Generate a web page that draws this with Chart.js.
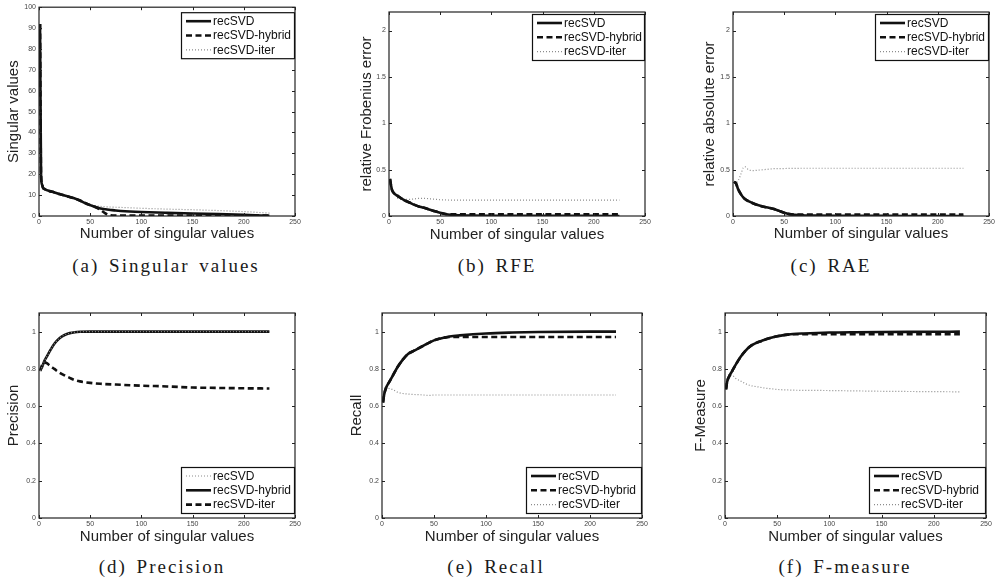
<!DOCTYPE html>
<html><head><meta charset="utf-8">
<script src="https://cdn.jsdelivr.net/npm/chart.js@4.4.0/dist/chart.umd.min.js"></script>
<style>
html,body{margin:0;padding:0;background:#fff;}
#wrap{position:relative;width:1001px;height:585px;background:#fff;overflow:hidden;}
canvas{position:absolute;}
.cap{position:absolute;width:320px;text-align:center;font-family:"Liberation Serif","Times New Roman",serif;font-size:19px;letter-spacing:2px;word-spacing:3px;color:#1a1a1a;line-height:22px;white-space:nowrap;}
</style></head><body><div id="wrap"></div>
<script>
// ---------- data ----------
const xTicks = [0, 50, 100, 150, 200, 250];
const yTicksA = [0, 10, 20, 30, 40, 50, 60, 70, 80, 90, 100];
const yTicksErr = [0, 0.5, 1, 1.5, 2];
const yTicksRate = [0, 0.2, 0.4, 0.6, 0.8, 1];

// (a) Singular values
const xA = [1,2,3,4,6,10,15,20,25,30,35,40,45,50,55,60,65,70,75,80,100,125,150,175,200,225];
const aRecSVD = [92,20,15,13.5,12.8,12,11.3,10.5,9.8,9.1,8.4,7.4,6.2,5.2,4.3,3.6,3.2,2.9,2.6,2.4,1.9,1.5,1.2,0.9,0.6,0.1];
const aHybrid = [92,20,15,13.5,12.8,12,11.3,10.5,9.8,9.1,8.4,7.4,6.2,5.2,4.3,3.0,1.2,0.3,0.2,0.2,0.2,0.2,0.2,0.2,0.2,0.2];
const aIter   = [92,20,15,13.5,12.8,12,11.3,10.5,9.8,9.1,8.4,7.4,6.3,5.4,4.9,4.6,4.4,4.3,4.2,4.1,3.7,3.3,3.0,2.6,2.1,1.4];

// (b) RFE
const xB = [1,2,3,5,8,10,15,20,25,30,35,40,45,50,55,60,70,80,100,150,200,225];
const bRecSVD = [0.40,0.33,0.28,0.245,0.22,0.205,0.17,0.145,0.12,0.10,0.085,0.068,0.05,0.035,0.022,0.014,0.008,0.005,0.003,0.002,0.001,0.0];
const bHybrid = [0.40,0.33,0.28,0.245,0.22,0.205,0.17,0.145,0.12,0.10,0.085,0.068,0.05,0.035,0.022,0.017,0.017,0.017,0.017,0.017,0.017,0.017];
const bIter   = [0.40,0.33,0.28,0.245,0.20,0.18,0.18,0.18,0.185,0.19,0.19,0.185,0.18,0.175,0.173,0.172,0.172,0.172,0.172,0.172,0.172,0.172];

// (c) RAE
const xC = [1,3,5,8,10,12,15,20,25,30,35,40,45,50,55,60,70,80,100,150,200,225];
const cRecSVD = [0.37,0.35,0.29,0.23,0.20,0.18,0.16,0.135,0.115,0.10,0.09,0.075,0.055,0.035,0.02,0.012,0.006,0.004,0.002,0.001,0.0,0.0];
const cHybrid = [0.37,0.35,0.29,0.23,0.20,0.18,0.16,0.135,0.115,0.10,0.09,0.075,0.055,0.035,0.02,0.016,0.016,0.016,0.016,0.016,0.016,0.016];
const cIter   = [0.37,0.36,0.38,0.46,0.52,0.53,0.50,0.49,0.495,0.50,0.505,0.51,0.51,0.512,0.513,0.514,0.515,0.515,0.515,0.515,0.515,0.515];

// (d) Precision
const xD = [1,3,5,8,10,15,20,25,30,35,40,50,60,75,100,125,150,175,200,225];
const dRecSVD = [0.79,0.81,0.84,0.87,0.89,0.935,0.965,0.982,0.992,0.997,0.999,1,1,1,1,1,1,1,1,1];
const dHybrid = [0.79,0.81,0.84,0.87,0.89,0.935,0.965,0.982,0.992,0.997,0.999,1,1,1,1,1,1,1,1,1];
const dIter   = [0.79,0.82,0.835,0.83,0.82,0.80,0.78,0.765,0.752,0.74,0.733,0.725,0.72,0.716,0.71,0.706,0.70,0.698,0.696,0.695];

// (e) Recall
const xE = [1,2,4,7,10,15,20,25,30,35,40,45,50,55,60,65,75,100,125,150,200,225];
const eRecSVD = [0.62,0.66,0.70,0.73,0.76,0.81,0.85,0.88,0.895,0.91,0.925,0.94,0.953,0.962,0.968,0.974,0.98,0.99,0.995,0.998,1.0,1.0];
const eHybrid = [0.62,0.66,0.70,0.73,0.76,0.81,0.85,0.88,0.895,0.91,0.925,0.94,0.953,0.962,0.968,0.971,0.971,0.971,0.971,0.971,0.971,0.971];
const eIter   = [0.62,0.67,0.70,0.695,0.69,0.675,0.668,0.665,0.663,0.662,0.66,0.658,0.66,0.66,0.66,0.66,0.66,0.66,0.66,0.66,0.66,0.66];

// (f) F-measure
const xF = [1,2,4,7,10,15,20,25,30,35,40,45,50,55,60,65,75,100,125,150,200,225];
const fRecSVD = [0.69,0.73,0.76,0.79,0.82,0.865,0.90,0.925,0.94,0.95,0.96,0.968,0.975,0.98,0.984,0.987,0.99,0.995,0.997,0.998,0.999,1.0];
const fHybrid = [0.69,0.73,0.76,0.79,0.82,0.865,0.90,0.925,0.94,0.95,0.96,0.968,0.975,0.98,0.984,0.986,0.986,0.986,0.986,0.986,0.986,0.986];
const fIter   = [0.69,0.73,0.76,0.765,0.75,0.735,0.72,0.71,0.705,0.70,0.696,0.693,0.69,0.688,0.687,0.686,0.685,0.684,0.682,0.68,0.678,0.677];

const labels = ['recSVD', 'recSVD-hybrid', 'recSVD-iter'];
const xTitle = 'Number of singular values';

// ---------- styling ----------
const FONT = '"Liberation Sans", Arial, Helvetica, sans-serif';
const STYLE = {
  solid:  {borderColor:'#111', borderWidth:2.6, borderDash:[]},
  dashed: {borderColor:'#111', borderWidth:2.6, borderDash:[6,3.5]},
  dotted: {borderColor:'#8c8c8c', borderWidth:1.2, borderDash:[1,2]}
};

const framePlugin = {
  id:'frame',
  afterDatasetsDraw(chart){
    const {ctx, chartArea:a, scales} = chart;
    ctx.save();
    ctx.strokeStyle = '#222'; ctx.lineWidth = 1.2; ctx.setLineDash([]);
    ctx.strokeRect(a.left, a.top, a.right - a.left, a.bottom - a.top);
    ctx.lineWidth = 1;
    ctx.beginPath();
    scales.x.ticks.forEach(t => {
      const px = Math.round(scales.x.getPixelForValue(t.value)) + 0.5;
      ctx.moveTo(px, a.bottom); ctx.lineTo(px, a.bottom - 3);
      ctx.moveTo(px, a.top); ctx.lineTo(px, a.top + 3);
    });
    scales.y.ticks.forEach(t => {
      const py = Math.round(scales.y.getPixelForValue(t.value)) + 0.5;
      ctx.moveTo(a.left, py); ctx.lineTo(a.left + 3, py);
      ctx.moveTo(a.right, py); ctx.lineTo(a.right - 3, py);
    });
    ctx.stroke();
    ctx.restore();
  }
};

const legendPlugin = {
  id:'boxLegend',
  afterDraw(chart, args, opts){
    const {ctx, chartArea:a} = chart;
    const w = opts.w || 114, h = 47;
    const x = a.right - w;
    const y = opts.pos === 'top' ? a.top + opts.off : a.bottom - opts.off - h;
    ctx.save();
    ctx.fillStyle = '#fff'; ctx.fillRect(x, y, w, h);
    ctx.strokeStyle = '#111'; ctx.lineWidth = 1.2; ctx.setLineDash([]);
    ctx.strokeRect(x + 0.5, y + 0.5, w - 1, h - 1);
    chart.data.datasets.forEach((ds, i) => {
      const cy = y + 9 + i * 14.3;
      ctx.strokeStyle = ds.borderColor; ctx.lineWidth = ds.borderWidth;
      ctx.setLineDash(ds.borderDash || []);
      ctx.beginPath(); ctx.moveTo(x + 5, cy); ctx.lineTo(x + 30, cy); ctx.stroke();
      ctx.setLineDash([]);
      ctx.fillStyle = '#111'; ctx.font = '12px ' + FONT; ctx.textBaseline = 'middle';
      ctx.fillText(ds.label, x + 32, cy + 0.5);
    });
    ctx.restore();
  }
};

const wrap = document.getElementById('wrap');

function makeChart(p){
  const c = document.createElement('canvas');
  c.width = p.cw; c.height = p.ch;
  c.style.left = p.cl + 'px'; c.style.top = p.ct + 'px';
  c.style.width = p.cw + 'px'; c.style.height = p.ch + 'px';
  wrap.appendChild(c);
  const padLeft = p.titleX - 9 - p.cl;
  const tickFont = {size:7, family:FONT};
  new Chart(c, {
    type:'line',
    data:{datasets: p.series.map(s => Object.assign({
      label: s.label,
      data: p.x.map((xv, i) => ({x:xv, y:s.y[i]})),
      pointRadius:0, fill:false, cubicInterpolationMode:'monotone'
    }, STYLE[s.style]))},
    options:{
      responsive:false, animation:false, devicePixelRatio:1,
      layout:{padding:{left:padLeft, top:p.pt - p.ct, right:p.cl + p.cw - p.pr, bottom:0}},
      plugins:{legend:{display:false}, tooltip:{enabled:false},
        boxLegend:{pos:p.legPos, off:p.legOff, w:p.legW}},
      scales:{
        x:{type:'linear', min:0, max:250,
          afterBuildTicks: s => { s.ticks = xTicks.map(v => ({value:v})); },
          afterFit: s => { s.height = p.ct + p.ch - p.pb; },
          grid:{display:false, drawTicks:false}, border:{display:false},
          ticks:{font:tickFont, color:'#444', padding:2, maxRotation:0, autoSkip:false, callback:v => String(v)},
          title:{display:true, text:xTitle, font:{size:15, family:FONT}, color:'#222', padding:0}
        },
        y:{type:'linear', min:p.ymin, max:p.ymax,
          afterBuildTicks: s => { s.ticks = p.yTicks.map(v => ({value:v})); },
          afterFit: s => { s.width = p.pl - p.cl - padLeft; },
          grid:{display:false, drawTicks:false}, border:{display:false},
          ticks:{font:tickFont, color:'#444', padding:3, autoSkip:false, callback:v => String(v)},
          title:{display:true, text:p.yTitle, font:{size:15, family:FONT}, color:'#222', padding:0}
        }
      }
    },
    plugins:[framePlugin, legendPlugin]
  });
}

function caption(text, cx, cy){
  const d = document.createElement('div');
  d.className = 'cap'; d.textContent = text;
  d.style.left = (cx - 160) + 'px'; d.style.top = (cy - 11) + 'px';
  wrap.appendChild(d);
}

const panels = [
  {cl:0, ct:0, cw:330, ch:243, pl:39, pr:295, pt:6, pb:216, titleX:14,
   yTitle:'Singular values', ymin:0, ymax:100, yTicks:yTicksA, x:xA, legPos:'top', legOff:5, legW:114,
   series:[{label:labels[0], y:aRecSVD, style:'solid'},{label:labels[1], y:aHybrid, style:'dashed'},{label:labels[2], y:aIter, style:'dotted'}]},
  {cl:330, ct:0, cw:330, ch:244, pl:389, pr:645, pt:12, pb:216, titleX:367,
   yTitle:'relative Frobenius error', ymin:0, ymax:2.2, yTicks:yTicksErr, x:xB, legPos:'top', legOff:2, legW:113,
   series:[{label:labels[0], y:bRecSVD, style:'solid'},{label:labels[1], y:bHybrid, style:'dashed'},{label:labels[2], y:bIter, style:'dotted'}]},
  {cl:665, ct:0, cw:336, ch:243, pl:733, pr:989, pt:12, pb:216, titleX:710,
   yTitle:'relative absolute error', ymin:0, ymax:2.2, yTicks:yTicksErr, x:xC, legPos:'top', legOff:2, legW:114,
   series:[{label:labels[0], y:cRecSVD, style:'solid'},{label:labels[1], y:cHybrid, style:'dashed'},{label:labels[2], y:cIter, style:'dotted'}]},
  {cl:0, ct:295, cw:330, ch:251, pl:39, pr:295, pt:313, pb:518, titleX:14,
   yTitle:'Precision', ymin:0, ymax:1.1, yTicks:yTicksRate, x:xD, legPos:'bottom', legOff:4, legW:114,
   series:[{label:labels[0], y:dRecSVD, style:'dotted'},{label:labels[1], y:dHybrid, style:'solid'},{label:labels[2], y:dIter, style:'dashed'}]},
  {cl:330, ct:295, cw:335, ch:251, pl:382, pr:642, pt:313, pb:518, titleX:357,
   yTitle:'Recall', ymin:0, ymax:1.1, yTicks:yTicksRate, x:xE, legPos:'bottom', legOff:4, legW:116,
   series:[{label:labels[0], y:eRecSVD, style:'solid'},{label:labels[1], y:eHybrid, style:'dashed'},{label:labels[2], y:eIter, style:'dotted'}]},
  {cl:665, ct:295, cw:336, ch:251, pl:725, pr:986, pt:313, pb:518, titleX:701,
   yTitle:'F-Measure', ymin:0, ymax:1.1, yTicks:yTicksRate, x:xF, legPos:'bottom', legOff:4, legW:117,
   series:[{label:labels[0], y:fRecSVD, style:'solid'},{label:labels[1], y:fHybrid, style:'dashed'},{label:labels[2], y:fIter, style:'dotted'}]}
];
panels.forEach(makeChart);

caption('(a) Singular values', 166, 266);
caption('(b) RFE', 497, 266);
caption('(c) RAE', 831, 266);
caption('(d) Precision', 162, 567);
caption('(e) Recall', 496, 567);
caption('(f) F-measure', 845, 567);
</script></body></html>
